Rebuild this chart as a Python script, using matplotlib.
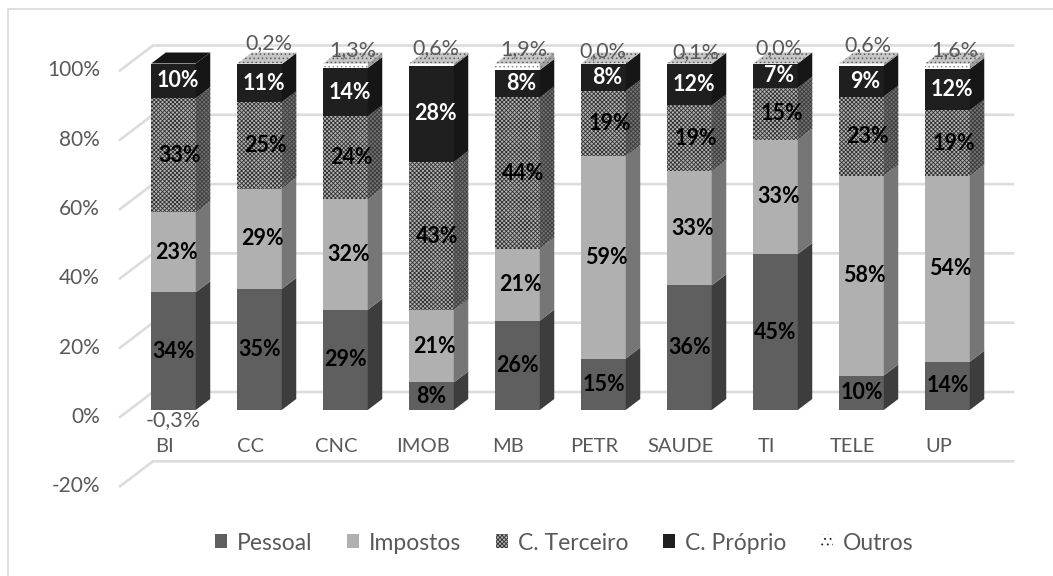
import matplotlib
matplotlib.use('Agg')
import matplotlib.pyplot as plt
from matplotlib.patches import Polygon, Patch
from matplotlib.lines import Line2D
import numpy as np

# Data
categories = ['BI', 'CC', 'CNC', 'IMOB', 'MB', 'PETR', 'SAUDE', 'TI', 'TELE', 'UP']
pessoal = [34, 35, 29, 8, 26, 15, 36, 45, 10, 14]
impostos = [23, 29, 32, 21, 21, 59, 33, 33, 58, 54]
terceiro = [33, 25, 24, 43, 44, 19, 19, 15, 23, 19]
proprio = [10, 11, 14, 28, 8, 8, 12, 7, 9, 12]
outros = [-0.3, 0.2, 1.3, 0.6, 1.9, 0.0, 0.1, 0.0, 0.6, 1.6]
yticks = [-20, 0, 20, 40, 60, 80, 100]
names = ['Pessoal', 'Impostos', 'C. Terceiro', 'C. Próprio', 'Outros']

# Configuration
WIDTH, HEIGHT = 1053, 576
STEP = 86.0          # px between bars
BAR_W = 44.5 / STEP  # front face width, category units
PX_Y = 3.465         # px per percent
X0, Y0 = 173.5, 410  # pixel of category 0 at 0%, bar front
TEXT = '#595959'
GRID = '#dcdcdc'
FONT = 'Lato'

STYLES = [
    dict(front='#5f5f5f', side='#3d3d3d', hatch=None, ink=None),
    dict(front='#b0b0b0', side='#767676', hatch=None, ink=None),
    dict(front='#b4b4b4', side='#727272', hatch='xxxxxxxx', ink='#303030', side_ink='#3c3c3c'),
    dict(front='#1f1f1f', side='#161616', hatch=None, ink=None),
    dict(front='#ffffff', side='#a0a0a0', hatch='....', ink='#8a8a8a', side_ink='#707070'),
]
LABEL_SHIFT = [0, 3, 6, 4]
# height of each small Outros label over the bar, px
OUTROS_RISE = [-10, 20, 13, 15, 14, 12, 11, 15, 18, 13]
OUTROS_SHIFT = [0, 9, 7, 4, 6, -1, 6, 3, 6, 7]

plt.rcParams['font.family'] = [FONT, 'DejaVu Sans']
plt.rcParams['hatch.linewidth'] = 0.6

fig = plt.figure(figsize=(WIDTH / 100, HEIGHT / 100), dpi=100)
ax = fig.add_axes([0, 0, 1, 1])
ax.set_xlim(-X0 / STEP, (WIDTH - X0) / STEP)
ax.set_ylim((Y0 - HEIGHT) / PX_Y, Y0 / PX_Y)
ax.axis('off')


def dx(px):
    return px / STEP


def dy(px):
    return px / PX_Y


def face(points, facecolor, hatch=None, ink=None, zorder=3):
    ax.add_patch(Polygon(points, closed=True, facecolor=facecolor, edgecolor=ink if hatch else facecolor,
                         hatch=hatch, linewidth=0, zorder=zorder))


# Chart frame
ax.add_line(Line2D([dx(7.5 - X0), dx(7.5 - X0), dx(WIDTH - X0)], [dy(Y0 - HEIGHT), dy(Y0 - 9), dy(Y0 - 9)],
                   color='#d9d9d9', lw=1.2, zorder=1))

# Floor diagonals and wall lines
wall_left, wall_right = dx(153 - X0), dx(1013 - X0)
floor_left = dx(120 - X0)
for tick in yticks:
    wall_y = tick + dy(18)
    ax.plot([floor_left, wall_left, wall_right], [tick + dy(-7), wall_y, wall_y], color=GRID, lw=1.9,
            solid_joinstyle='miter', zorder=1)
    ax.text(dx(100 - X0), tick - dy(7), f'{tick}%', ha='right', va='center', color=TEXT, fontsize=15)

# Bars
half = BAR_W / 2
depth_x, depth_y = dx(14.5), dy(11)
series = [pessoal, impostos, terceiro, proprio, outros]
for i, name in enumerate(categories):
    positive = np.array([max(s[i], 0) for s in series], dtype=float)
    shares = positive * 100 / positive.sum()
    left, right = i - half, i + half
    bottom = 0.0
    top_index = 0
    for j, share in enumerate(shares):
        if series[j][i] < 0:
            continue
        st = STYLES[j]
        upper = bottom + share
        face([(left, bottom), (right, bottom), (right, upper), (left, upper)],
             st['front'], st['hatch'], st['ink'], zorder=3 + 0.01 * i)
        face([(right, bottom), (right + depth_x, bottom + depth_y),
              (right + depth_x, upper + depth_y), (right, upper)],
             st['side'], st['hatch'], st.get('side_ink'), zorder=3 + 0.01 * i)
        if j < 4:
            color = 'white' if j == 3 else 'black'
            ax.text(i + dx(LABEL_SHIFT[j]), bottom + share / 2, f'{series[j][i]}%', ha='center', va='center',
                    color=color, fontsize=15.5, fontweight='bold', zorder=6)
        bottom = upper
        top_index = j
    # Top cap takes the colour of the last stacked series
    cap = [(left, bottom), (right, bottom), (right + depth_x, bottom + depth_y), (left + depth_x, bottom + depth_y)]
    if top_index == 4:
        face(cap, '#c6c6c6', '....', '#5c5c5c', zorder=3.5)
    else:
        face(cap, STYLES[top_index]['side'], zorder=3.5)

    value = outros[i]
    label = f'{value:.1f}%'.replace('.', ',')
    ax.text(i + dx(OUTROS_SHIFT[i]), (0 if value < 0 else 100) + dy(OUTROS_RISE[i]), label, ha='center', va='center',
            color=TEXT, fontsize=15.5, zorder=7)
    ax.text(i + dx(-9), dy(-37), name, ha='center', va='center', color=TEXT, fontsize=14.5, zorder=7)

# Legend
handles = []
for j, (st, name) in enumerate(zip(STYLES, names)):
    if j == 4:
        handles.append(Patch(facecolor='white', edgecolor='#222222', hatch='...', linewidth=0, label=name))
    elif st['hatch']:
        handles.append(Patch(facecolor=st['front'], edgecolor=st['ink'], hatch=st['hatch'], linewidth=0, label=name))
    else:
        handles.append(Patch(facecolor=st['front'], label=name))
ax.legend(handles=handles, loc='center', bbox_to_anchor=(564 / WIDTH, 1 - 543 / HEIGHT), ncol=5, frameon=False,
          fontsize=16.5, labelcolor=TEXT, handlelength=0.55, handleheight=0.55, handletextpad=0.42,
          columnspacing=1.5)

fig.savefig('out.png', dpi=100)
